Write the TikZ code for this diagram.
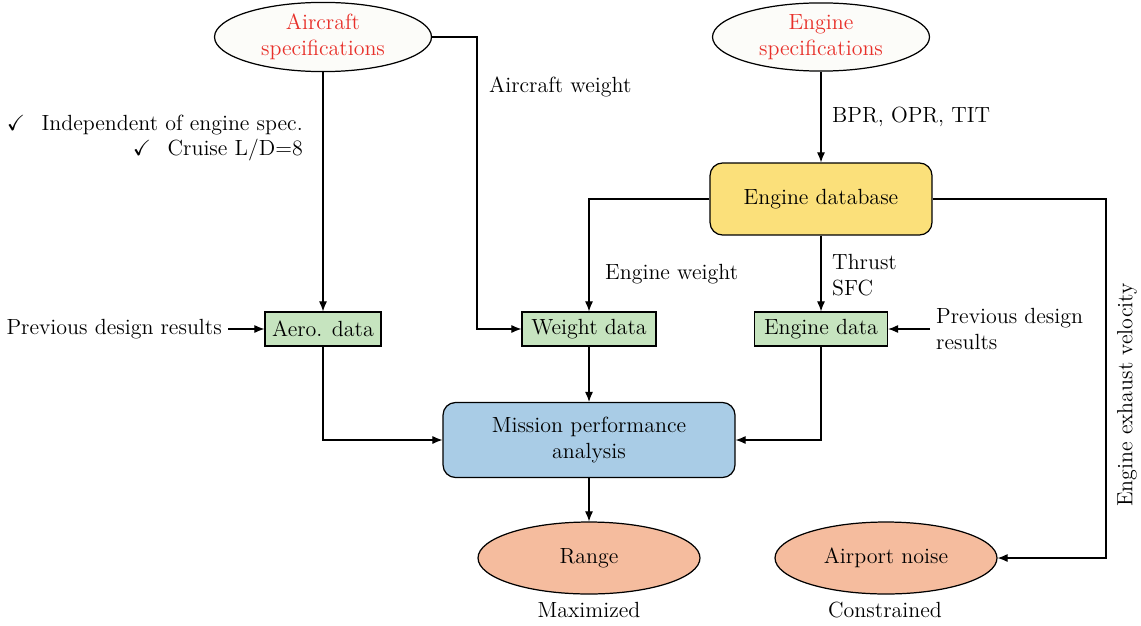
\documentclass[tikz,border=0pt]{standalone}
\usepackage{amsmath,amssymb}
\usepackage{tikz}
\usetikzlibrary{
    arrows.meta,
    shapes.geometric
}

\definecolor{specred}{HTML}{E8302A}
\definecolor{specfill}{HTML}{FCFCF9}
\definecolor{dbyellow}{HTML}{FBE07A}
\definecolor{datagreen}{HTML}{C6E4BF}
\definecolor{missionblue}{HTML}{A9CCE6}
\definecolor{resultsalmon}{HTML}{F5BC9E}

\begin{document}
\begin{tikzpicture}[x=0.02cm,y=-0.02cm,
    every node/.style={font=\fontsize{12.5}{14.5}\selectfont},
    spec/.style={ellipse,draw,line width=0.7pt,fill=specfill,text=specred,
        align=center,minimum width=4.34cm,minimum height=1.28cm,inner sep=1pt},
    result/.style={ellipse,draw,line width=0.7pt,fill=resultsalmon,
        minimum width=4.44cm,minimum height=1.44cm},
    datbox/.style={rectangle,draw,line width=0.7pt,fill=datagreen,
        minimum height=0.68cm,inner sep=2pt},
    bigbox/.style={rectangle,draw,line width=0.7pt,rounded corners=0.25cm,
        align=center},
    flow/.style={line width=0.6pt,-{Latex[length=2mm,width=1.6mm]}}
]

% Page frame
\useasboundingbox (0,0) rectangle (1141,625);

% Specifications
\node[spec] (aircraft) at (323,37) {Aircraft\\specifications};
\node[spec] (engine) at (821,37) {Engine\\specifications};

% Engine database
\node[bigbox,fill=dbyellow,minimum width=4.44cm,minimum height=1.44cm]
    (enginedb) at (821,199) {Engine database};

% Data boxes
\node[datbox,minimum width=2.32cm] (aero) at (323,329) {Aero. data};
\node[datbox,minimum width=2.68cm] (weight) at (589,329) {Weight data};
\node[datbox,minimum width=2.66cm] (enginedata) at (821,329) {Engine data};

% Mission analysis
\node[bigbox,fill=missionblue,minimum width=5.84cm,minimum height=1.5cm]
    (mission) at (589,440) {Mission performance\\analysis};

% Results
\node[result] (range) at (589,558) {Range};
\node[result] (noise) at (886,558) {Airport noise};
\node (maxed) at (589,610) {Maximized};
\node (constr) at (885,610) {Constrained};

% Side texts
\node[anchor=east,align=right] (notes) at (309,138)
    {$\checkmark$\hspace{0.75em}Independent of engine spec.\\$\checkmark$\hspace{0.75em}Cruise L/D=8};
\node[anchor=east] (prevaero) at (228,329) {Previous design results};
\node[anchor=west,align=left] (prevengine) at (930,329) {Previous design\\results};

% Aircraft specifications to data
\draw[flow] (aircraft.south) -- (aero.north);
\coordinate (awbend) at (477,37);
\draw[flow] (aircraft.east) -- (awbend) |- (weight.west);
\node[anchor=west] (acweight) at (483,87) {Aircraft weight};

% Engine specifications to database
\draw[flow] (engine.south) -- (enginedb.north);
\node[anchor=west] (cycle) at (826,117) {BPR, OPR, TIT};

% Database outputs
\draw[flow] (enginedb.west) -| (weight.north);
\node[anchor=west] (engweight) at (599,274) {Engine weight};
\draw[flow] (enginedb.south) -- (enginedata.north);
\node[anchor=west,align=left] (perf) at (826,275) {Thrust\\SFC};
\coordinate (velbend) at (1106,199);
\draw[flow] (enginedb.east) -- (velbend) |- (noise.east);
\node[rotate=90] (exhaust) at (1127,395) {Engine exhaust velocity};

% Previous design results
\draw[flow] (prevaero.east) -- (aero.west);
\draw[flow] (prevengine.west) -- (enginedata.east);

% Data to mission analysis
\draw[flow] (aero.south) |- (mission.west);
\draw[flow] (weight.south) -- (mission.north);
\draw[flow] (enginedata.south) |- (mission.east);

% Mission analysis to range
\draw[flow] (mission.south) -- (range.north);

\end{tikzpicture}
\end{document}
